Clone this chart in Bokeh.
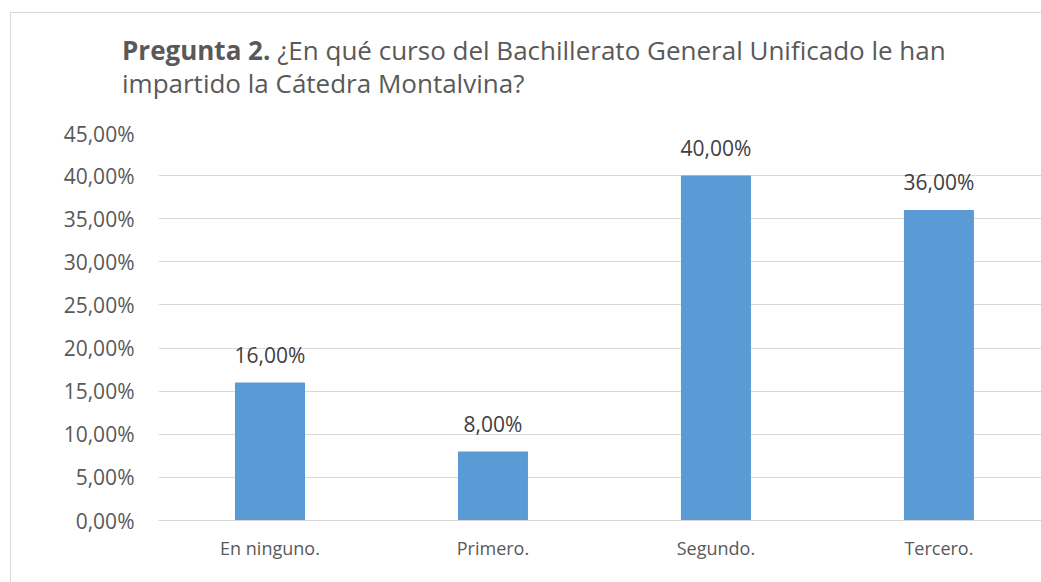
from bokeh.plotting import figure
from bokeh.models import ColumnDataSource, FixedTicker, Range1d, LabelSet, Div
from bokeh.layouts import column
from bokeh.embed import file_html
from bokeh.resources import INLINE
from bokeh.core.properties import value

categories = ["En ninguno.", "Primero.", "Segundo.", "Tercero."]
values = [16.0, 8.0, 40.0, 36.0]
y_ticks = [0, 5, 10, 15, 20, 25, 30, 35, 40, 45]
y_tick_labels = ["0,00%", "5,00%", "10,00%", "15,00%", "20,00%", "25,00%", "30,00%", "35,00%", "40,00%", "45,00%"]
title_bold = "Pregunta 2."
title_line1 = "¿En qué curso del Bachillerato General Unificado le han"
title_line2 = "impartido la Cátedra Montalvina?"

FONT = "Open Sans"
TXT = "#595959"

xs = list(range(len(categories)))
labels = [f"{v:.2f}".replace(".", ",") + "%" for v in values]
src = ColumnDataSource(dict(x=xs, top=values, lab=labels))

W = 1030
DIV_H = 106
FIG_H = 569 - DIV_H

title = Div(text=f"<b>{title_bold}</b> {title_line1}<br>{title_line2}",
            width=W, height=DIV_H, margin=0,
            styles={"font-family": FONT, "font-size": "26px", "line-height": "33px",
                    "color": TXT, "padding-left": "111px", "padding-top": "21px",
                    "box-sizing": "border-box", "white-space": "nowrap"})

p = figure(width=W, height=FIG_H, output_backend="svg", toolbar_location=None,
           x_range=Range1d(-0.5, 3.46), y_range=Range1d(0, 45),
           min_border_left=147, min_border_right=0, min_border_top=13, min_border_bottom=62)
p.margin = 0
p.outline_line_color = None
p.background_fill_color = "white"
p.border_fill_color = "white"

p.vbar(x="x", top="top", width=0.314, bottom=0, source=src, color="#5b9bd5", line_color=None)

p.xgrid.grid_line_color = None
p.ygrid.grid_line_color = "#d9d9d9"
p.ygrid.grid_line_width = 1
p.ygrid.ticker = FixedTicker(ticks=y_ticks)

ya = p.yaxis[0]
ya.ticker = FixedTicker(ticks=y_ticks)
ya.major_label_overrides = {t: l for t, l in zip(y_ticks, y_tick_labels)}
ya.axis_line_color = None
ya.major_tick_line_color = None
ya.minor_tick_line_color = None
ya.major_label_text_font = FONT
ya.major_label_text_font_size = "21px"
ya.major_label_text_color = TXT
ya.major_label_standoff = 18

xa = p.xaxis[0]
xa.ticker = FixedTicker(ticks=xs)
xa.major_label_overrides = {i: c for i, c in zip(xs, categories)}
xa.axis_line_color = "#d9d9d9"
xa.major_tick_line_color = None
xa.minor_tick_line_color = None
xa.major_label_text_font = FONT
xa.major_label_text_font_size = "18px"
xa.major_label_text_color = TXT
xa.major_label_standoff = 9

ls = LabelSet(x="x", y="top", text="lab", source=src, text_align="center",
              text_baseline="alphabetic", y_offset=20,
              text_font=value(FONT), text_font_size="21px", text_color="#404040")
p.add_layout(ls)

layout = column(title, p, margin=(12, 0, 0, 10), spacing=0,
                styles={"border-left": "1px solid #d9d9d9", "border-top": "1px solid #d9d9d9",
                        "background-color": "white"})

open("out.html", "w").write(file_html(layout, INLINE))
